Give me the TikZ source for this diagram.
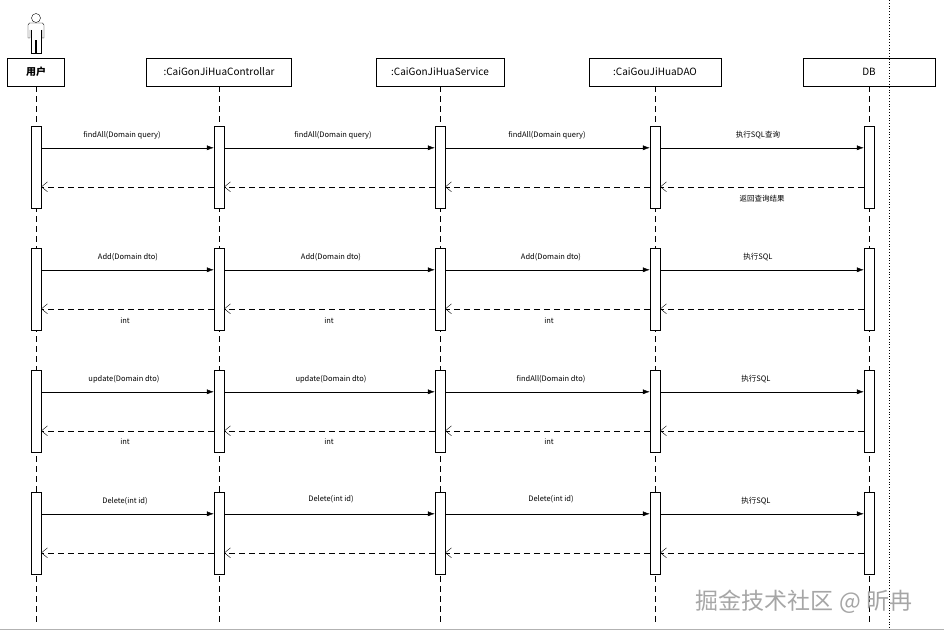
\documentclass[tikz,border=0pt]{standalone}
\usepackage{fontspec}
\setmainfont{Noto Sans CJK SC}
\usetikzlibrary{arrows.meta,calc}
\begin{document}
\begin{tikzpicture}[x=1pt,y=-1pt,
    head/.style={rectangle, draw, minimum height=28pt, inner sep=0pt, font=\fontsize{10}{11}\selectfont},
    bar/.style={rectangle, draw, fill=white, minimum width=10pt, minimum height=82pt, inner sep=0pt},
    life/.style={dashed, dash pattern=on 6pt off 4pt},
    msg/.style={-{Latex[length=7pt,width=5pt]}},
    ret/.style={dashed, dash pattern=on 6pt off 4pt, -{Straight Barb[length=6pt,width=10pt]}},
    lbl/.style={font=\fontsize{7.5}{8}\selectfont, inner sep=1pt}
  ]
  \useasboundingbox (0,0) rectangle (944,636);
  \draw[gray!60] (0,629) -- (944,629);
  \draw[dotted, thick] (889,0) -- (889,629);
  % actor
  \draw (36,18) circle (4.5);
  \draw (29.5,23) -- (42.5,23) -- (44,25) -- (44,38) -- (42,38) -- (42,30)
        (29.5,23) -- (28,25) -- (28,38) -- (30,38) -- (30,30);
  \draw (31,30) -- (31,53) -- (35.5,53) -- (35.5,40) -- (36.5,40) -- (36.5,53) -- (41,53) -- (41,30);
  % heads
  \node[head, minimum width=57pt, font=\fontsize{10}{11}\selectfont\bfseries] (user) at (36,72) {用户};
  \node[head, minimum width=145pt] (ctrl) at (219,72) {:CaiGonJiHuaControllar};
  \node[head, minimum width=128pt] (svc) at (440,72) {:CaiGonJiHuaService};
  \node[head, minimum width=132pt] (dao) at (655,72) {:CaiGouJiHuaDAO};
  \node[head, minimum width=132pt] (db) at (869,72) {DB};
  \foreach \n in {user,ctrl,svc,dao,db}
    \draw[life] (\n.south) -- (\n.south |- 0,625);
  % activation bars
  \foreach \r/\y in {1/167,2/289,3/411,4/533}{
    \node[bar] (u\r) at (36,\y) {};
    \node[bar] (c\r) at (219,\y) {};
    \node[bar] (s\r) at (440,\y) {};
    \node[bar] (d\r) at (655,\y) {};
    \node[bar] (b\r) at (869,\y) {};
    \foreach \a/\b in {u/c,c/s,s/d,d/b}{
      \draw[msg] ($(\a\r.north east)+(0,22)$) -- ($(\b\r.north west)+(0,22)$);
      \draw[ret] ($(\b\r.north west)+(0,61)$) -- ($(\a\r.north east)+(0,61)$);
    }
  }
  % labels
  \node[lbl] at (122,135) {findAll(Domain query)};
  \node[lbl] at (333,135) {findAll(Domain query)};
  \node[lbl] at (547,135) {findAll(Domain query)};
  \node[lbl] at (758,135) {执行SQL查询};
  \node[lbl] at (762,199) {返回查询结果};
  \node[lbl] at (128,257) {Add(Domain dto)};
  \node[lbl] at (331,257) {Add(Domain dto)};
  \node[lbl] at (551,257) {Add(Domain dto)};
  \node[lbl] at (758,257) {执行SQL};
  \node[lbl] at (125,321) {int};
  \node[lbl] at (329,321) {int};
  \node[lbl] at (549,321) {int};
  \node[lbl] at (124,379) {update(Domain dto)};
  \node[lbl] at (331,379) {update(Domain dto)};
  \node[lbl] at (551,379) {findAll(Domain dto)};
  \node[lbl] at (756,379) {执行SQL};
  \node[lbl] at (125,442) {int};
  \node[lbl] at (329,442) {int};
  \node[lbl] at (549,442) {int};
  \node[lbl] at (125,501) {Delete(int id)};
  \node[lbl] at (331,499) {Delete(int id)};
  \node[lbl] at (551,499) {Delete(int id)};
  \node[lbl] at (756,501) {执行SQL};
  % watermark
  \node[text=gray!70, font=\fontsize{23}{24}\selectfont] (wm) at (804,602) {掘金技术社区 @ 昕冉};
\end{tikzpicture}
\end{document}
